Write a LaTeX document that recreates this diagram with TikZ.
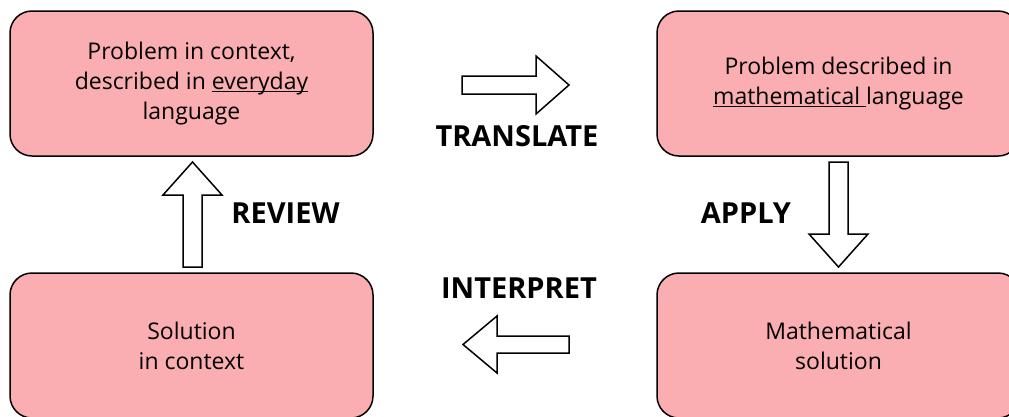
\documentclass[tikz,border=0pt]{standalone}
\usepackage{fontspec}
\setmainfont{Open Sans}
\definecolor{boxpink}{RGB}{251,174,178}
\newcommand{\ulword}[1]{{\setbox0\hbox{#1}\rlap{\rule[-3pt]{\wd0}{1.3pt}}\box0}}
\tikzset{
  stagebox/.style={draw=black, line width=1.5pt, fill=boxpink, rounded corners=22pt,
    minimum width=363pt, minimum height=145pt, inner sep=0pt, align=center,
    font=\fontsize{23}{30}\selectfont},
  steplabel/.style={anchor=base, inner sep=0pt, font=\fontsize{29}{30}\selectfont\bfseries},
  blockarrow/.style={draw=black, line width=1.5pt, fill=white, line join=miter}
}
\begin{document}
\begin{tikzpicture}[x=1pt,y=-1pt]
\useasboundingbox (0,0) rectangle (1009,416);
\node[stagebox] (tl) at (191.5,83.5) {Problem in context,\\described in \ulword{everyday}\\language};
\node[stagebox] (tr) at (838.5,83.5) {Problem described in\\\ulword{mathematical\ }language};
\node[stagebox] (bl) at (191.5,345.5) {Solution\\in context};
\node[stagebox] (br) at (838.5,345.5) {Mathematical\\solution};

\node[steplabel] (translate) at (517,146) {TRANSLATE};
\node[steplabel] (interpret) at (519,298) {INTERPRET};
\node[steplabel] (review) at (285.5,223) {REVIEW};
\node[steplabel] (apply) at (746,223) {APPLY};

% translate arrow (right)
\draw[blockarrow] (462,76) -- (536,76) -- (536,56) -- (569,85) -- (536,114) -- (536,94) -- (462,94) -- cycle;
% interpret arrow (left)
\draw[blockarrow] (569,336) -- (497,336) -- (497,316) -- (463,344.5) -- (497,373) -- (497,353) -- (569,353) -- cycle;
% review arrow (up)
\draw[blockarrow] (183,267) -- (183,195) -- (163,195) -- (192.5,162) -- (222,195) -- (202,195) -- (202,267) -- cycle;
% apply arrow (down)
\draw[blockarrow] (829,162) -- (829,234) -- (809,234) -- (838.5,267) -- (868,234) -- (848,234) -- (848,162) -- cycle;
\end{tikzpicture}
\end{document}
